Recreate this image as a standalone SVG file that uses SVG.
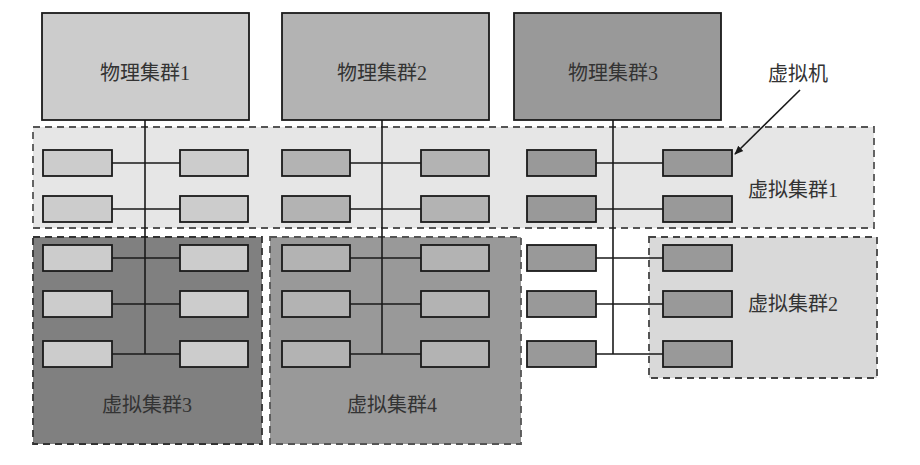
<svg xmlns="http://www.w3.org/2000/svg" width="920" height="465" viewBox="0 0 920 465">
<defs>
<style>
.pc{stroke:#1a1a1a;stroke-width:1.8}
.vc{stroke-width:1.8;stroke-dasharray:7,5}
.vm{stroke:#1a1a1a;stroke-width:1.8}
.c1{fill:#cccccc}.c2{fill:#b3b3b3}.c3{fill:#999999}
.t{font-family:"Liberation Serif","Noto Sans CJK SC",serif;font-size:20px;fill:#333333;text-anchor:middle}
.ln{stroke:#1a1a1a;stroke-width:1.6;fill:none}
</style>
<marker id="ah" viewBox="0 0 10 10" refX="9" refY="5" markerWidth="9" markerHeight="9" orient="auto" markerUnits="userSpaceOnUse">
<path d="M0,1 L10,5 L0,9 z" fill="#1a1a1a"/>
</marker>
</defs>
<rect width="920" height="465" fill="#ffffff"/>

<g id="vcluster1"><rect class="vc" x="33" y="127" width="841" height="101" fill="#e6e6e6" stroke="#555555"/><text class="t" x="793" y="197">虚拟集群1</text></g>
<g id="vcluster3"><rect class="vc" x="33" y="237" width="229" height="207" fill="#808080" stroke="#333333"/><text class="t" x="147" y="412">虚拟集群3</text></g>
<g id="vcluster4"><rect class="vc" x="270" y="237" width="251" height="207" fill="#999999" stroke="#555555"/><text class="t" x="392" y="412">虚拟集群4</text></g>
<g id="vcluster2"><rect class="vc" x="649" y="237" width="228" height="141" fill="#d9d9d9" stroke="#444444"/><text class="t" x="793" y="311">虚拟集群2</text></g>

<g id="pcluster1"><rect class="pc c1" x="42" y="13" width="207" height="107"/><text class="t" x="145" y="80">物理集群1</text></g>
<g id="pcluster2"><rect class="pc c2" x="282" y="13" width="207" height="107"/><text class="t" x="382" y="80">物理集群2</text></g>
<g id="pcluster3"><rect class="pc c3" x="514" y="13" width="207" height="107"/><text class="t" x="613" y="80">物理集群3</text></g>

<g id="connectors">
<line class="ln" x1="145" y1="120" x2="145" y2="354"/>
<line class="ln" x1="382" y1="120" x2="382" y2="354"/>
<line class="ln" x1="613" y1="120" x2="613" y2="354"/>
<path class="ln" d="M112,163H180M112,209H180M112,258H180M112,304H180M112,354H180"/>
<path class="ln" d="M350,163H421M350,209H421M350,258H421M350,304H421M350,354H421"/>
<path class="ln" d="M596,163H663M596,209H663M596,258H663M596,304H663M596,354H663"/>
<line class="ln" x1="800" y1="90" x2="735" y2="154" marker-end="url(#ah)"/>
</g>

<g id="vm-col1">
<rect class="vm c1" x="43" y="150" width="69" height="26"/>
<rect class="vm c1" x="43" y="196" width="69" height="26"/>
<rect class="vm c1" x="43" y="245" width="69" height="26"/>
<rect class="vm c1" x="43" y="291" width="69" height="26"/>
<rect class="vm c1" x="43" y="341" width="69" height="26"/>
</g>
<g id="vm-col2">
<rect class="vm c1" x="180" y="150" width="68" height="26"/>
<rect class="vm c1" x="180" y="196" width="68" height="26"/>
<rect class="vm c1" x="180" y="245" width="68" height="26"/>
<rect class="vm c1" x="180" y="291" width="68" height="26"/>
<rect class="vm c1" x="180" y="341" width="68" height="26"/>
</g>
<g id="vm-col3">
<rect class="vm c2" x="282" y="150" width="68" height="26"/>
<rect class="vm c2" x="282" y="196" width="68" height="26"/>
<rect class="vm c2" x="282" y="245" width="68" height="26"/>
<rect class="vm c2" x="282" y="291" width="68" height="26"/>
<rect class="vm c2" x="282" y="341" width="68" height="26"/>
</g>
<g id="vm-col4">
<rect class="vm c2" x="421" y="150" width="68" height="26"/>
<rect class="vm c2" x="421" y="196" width="68" height="26"/>
<rect class="vm c2" x="421" y="245" width="68" height="26"/>
<rect class="vm c2" x="421" y="291" width="68" height="26"/>
<rect class="vm c2" x="421" y="341" width="68" height="26"/>
</g>
<g id="vm-col5">
<rect class="vm c3" x="527" y="150" width="69" height="26"/>
<rect class="vm c3" x="527" y="196" width="69" height="26"/>
<rect class="vm c3" x="527" y="245" width="69" height="26"/>
<rect class="vm c3" x="527" y="291" width="69" height="26"/>
<rect class="vm c3" x="527" y="341" width="69" height="26"/>
</g>
<g id="vm-col6">
<rect class="vm c3" x="663" y="150" width="69" height="26"/>
<rect class="vm c3" x="663" y="196" width="69" height="26"/>
<rect class="vm c3" x="663" y="245" width="69" height="26"/>
<rect class="vm c3" x="663" y="291" width="69" height="26"/>
<rect class="vm c3" x="663" y="341" width="69" height="26"/>
</g>

<g id="vm-label"><text class="t" x="798" y="81">虚拟机</text></g>
</svg>
